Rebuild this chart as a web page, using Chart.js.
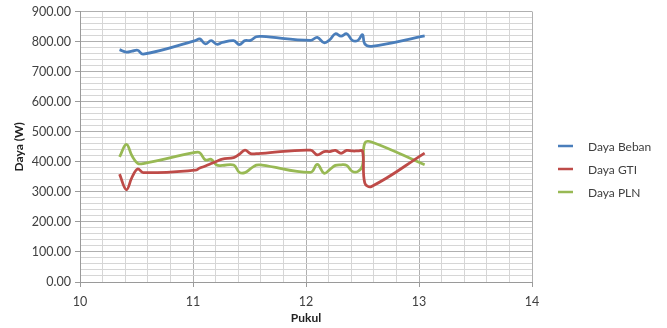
<!DOCTYPE html>
<html>
<head>
<meta charset="utf-8">
<script src="https://cdn.jsdelivr.net/npm/chart.js@4.4.1/dist/chart.umd.min.js"></script>
<style>
  html, body { margin: 0; padding: 0; background: #ffffff; }
  #wrap { width: 667px; height: 328px; position: relative; }
</style>
</head>
<body>
<div id="wrap"><canvas id="c" width="667" height="328"></canvas></div>
<script>
// Measurement times (decimal hours)
const pukul = [10.35, 10.41, 10.46, 10.51, 10.56, 11.02, 11.06, 11.11, 11.16, 11.21,
               11.26, 11.36, 11.41, 11.46, 11.51, 11.56, 11.61, 12.04, 12.10, 12.16,
               12.21, 12.26, 12.31, 12.36, 12.41, 12.46, 12.50, 12.52, 12.58, 13.05];

// Power readings in watts
const dayaBeban = [773, 765, 768, 771, 758, 803, 809, 792, 803, 791,
                   797, 803, 790, 803, 804, 816, 817, 804, 814, 796,
                   806, 826, 818, 826, 804, 804, 823, 792, 784, 819];
const dayaGTI   = [359, 307, 348, 376, 364, 372, 379, 386, 394, 402,
                   409, 414, 425, 439, 427, 427, 428, 439, 423, 434,
                   434, 438, 428, 438, 436, 436, 436, 330, 318, 429];
const dayaPLN   = [416, 458, 420, 395, 394, 431, 430, 406, 408, 389,
                   388, 389, 365, 364, 377, 389, 389, 365, 391, 362,
                   374, 388, 390, 388, 368, 368, 387, 462, 466, 390];

const seriesNames  = ['Daya Beban', 'Daya GTI', 'Daya PLN'];
const seriesColors = ['#4a7ebb', '#be4b48', '#98b954'];

// Axis ranges and label steps
const xMin = 10, xMax = 14, xMajor = 1, xMinor = 0.2;
const yMin = 0, yMax = 900, yMajor = 100, yMinor = 20;

const toPoints = vals => pukul.map((t, i) => ({ x: t, y: vals[i] }));
const seriesValues = [dayaBeban, dayaGTI, dayaPLN];

const datasets = seriesValues.map((vals, i) => ({
  label: seriesNames[i],
  data: toPoints(vals),
  borderColor: seriesColors[i],
  backgroundColor: seriesColors[i],
  borderWidth: 2.75,
  pointRadius: 0,
  showLine: true,
  tension: 0.4,
  fill: false
}));

const FONT = 'Lato, "Liberation Sans", sans-serif';
const TEXT = '#404040';
const isMajor = (v, step) => Math.abs(v / step - Math.round(v / step)) < 1e-6;

// Legend drawn to the right of the plot area
const sideLegend = {
  id: 'sideLegend',
  afterDraw(chart) {
    const ctx = chart.ctx;
    const ds = chart.data.datasets;
    const x0 = 558, lineLen = 15, textX = 588;
    const rows = [146, 169, 192];
    ctx.save();
    ctx.font = '12px ' + FONT;
    ctx.textBaseline = 'middle';
    ctx.fillStyle = TEXT;
    ds.forEach((d, i) => {
      ctx.strokeStyle = d.borderColor;
      ctx.lineWidth = 2.5;
      ctx.beginPath();
      ctx.moveTo(x0, rows[i]);
      ctx.lineTo(x0 + lineLen, rows[i]);
      ctx.stroke();
      ctx.fillText(d.label, textX, rows[i] + 1);
    });
    ctx.restore();
  }
};

new Chart(document.getElementById('c'), {
  type: 'scatter',
  data: { datasets },
  options: {
    responsive: false,
    animation: false,
    layout: { padding: { top: 10, right: 135, bottom: 0, left: 0 } },
    plugins: {
      legend: { display: false },
      tooltip: { enabled: false }
    },
    scales: {
      x: {
        type: 'linear',
        min: xMin, max: xMax,
        afterFit: s => { s.height = 46; },
        ticks: {
          stepSize: xMinor,
          autoSkip: false,
          maxRotation: 0,
          padding: 7,
          color: TEXT,
          font: { family: FONT, size: 12.5 },
          callback: v => isMajor(v, xMajor) ? String(Math.round(v)) : ''
        },
        grid: {
          color: c => isMajor(c.tick.value, xMajor) ? '#b0b0b0' : '#d6d6d6',
          tickColor: c => isMajor(c.tick.value, xMajor) ? '#9a9a9a' : 'rgba(0,0,0,0)',
          tickLength: 5,
          lineWidth: 1
        },
        border: { color: '#9a9a9a' },
        title: {
          display: true,
          text: 'Pukul',
          color: '#222222',
          font: { family: FONT, size: 12, weight: 'bold' },
          padding: { top: 0, bottom: 3 }
        }
      },
      y: {
        type: 'linear',
        min: yMin, max: yMax,
        afterFit: s => { s.width = 80; },
        ticks: {
          stepSize: yMinor,
          autoSkip: false,
          padding: 4,
          color: TEXT,
          font: { family: FONT, size: 12.5 },
          callback: v => isMajor(v, yMajor) ? v.toFixed(2) : ''
        },
        grid: {
          color: c => isMajor(c.tick.value, yMajor) ? '#b0b0b0' : '#d6d6d6',
          tickColor: c => isMajor(c.tick.value, yMajor) ? '#9a9a9a' : 'rgba(0,0,0,0)',
          tickLength: 5,
          lineWidth: 1
        },
        border: { color: '#9a9a9a' },
        title: {
          display: true,
          text: 'Daya (W)',
          color: '#222222',
          font: { family: FONT, size: 12, weight: 'bold' },
          padding: { top: 12, bottom: 4 }
        }
      }
    }
  },
  plugins: [sideLegend]
});
</script>
</body>
</html>
